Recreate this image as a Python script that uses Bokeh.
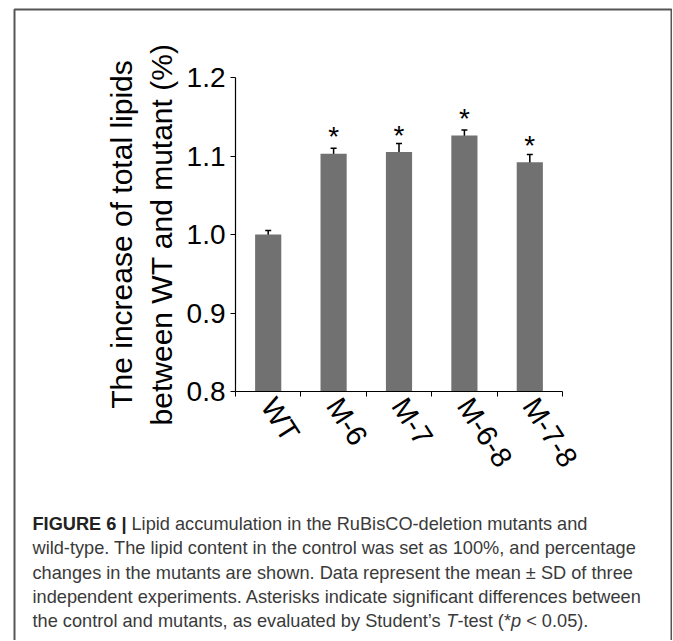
import numpy as np
from bokeh.plotting import figure
from bokeh.models import (ColumnDataSource, Range1d, FixedTicker, Whisker, TeeHead,
                          Label, PolyAnnotation, PrintfTickFormatter)
from bokeh.core.properties import value
from bokeh.embed import file_html
from bokeh.resources import INLINE

# ---- data ----
categories = ["WT", "M-6", "M-7", "M-6-8", "M-7-8"]
means = [1.000, 1.103, 1.105, 1.126, 1.092]
sds = [0.005, 0.007, 0.011, 0.007, 0.010]
stars = ["", "*", "*", "*", "*"]
y_ticks = [0.8, 0.9, 1.0, 1.1, 1.2]
y_label = "The increase of total lipids\nbetween WT and mutant (%)"

caption_bold = "FIGURE 6 |"
caption_first = "Lipid accumulation in the RuBisCO-deletion mutants and"
caption_lines = [
    "wild-type. The lipid content in the control was set as 100%, and percentage",
    "changes in the mutants are shown. Data represent the mean \u00b1 SD of three",
    "independent experiments. Asterisks indicate significant differences between",
]
caption_last = ["the control and mutants, as evaluated by Student\u2019s", "T",
                "-test (*", "p", "< 0.05)."]

# ---- layout (pixels) ----
W, H = 672, 640
FL, FR, FT, FB = 235, 562, 77, 391        # plot area inside the canvas
n = len(categories)
y0, y1 = y_ticks[0], y_ticks[-1]
xpp = n / (FR - FL)
ypp = (y1 - y0) / (FB - FT)

x_pos = np.arange(n)
m = np.array(means)
s = np.array(sds)
src = ColumnDataSource(dict(x=x_pos, cat=categories, mean=m,
                            lower=m - s, upper=m + s, star=stars))

FONT = "Liberation Sans"

p = figure(width=W, height=H, output_backend="svg", toolbar_location=None,
           x_range=Range1d(-0.5 - FL * xpp, -0.5 + (W - FL) * xpp),
           y_range=Range1d(y0 - (H - FB) * ypp, y1 + FT * ypp),
           min_border=0, min_border_left=0, min_border_right=0,
           min_border_top=0, min_border_bottom=0)
p.outline_line_color = None
p.grid.visible = False
p.background_fill_color = "white"
p.border_fill_color = "white"

p.vbar(x="x", top="mean", bottom=y0, width=0.4, source=src,
       fill_color="#717171", line_color=None)

p.add_layout(Whisker(source=src, base="x", upper="upper", lower="lower",
                     line_color="black", line_width=1.5,
                     upper_head=TeeHead(size=6, line_width=1.5, line_color="black"),
                     lower_head=TeeHead(size=6, line_width=1.5, line_color="black")))

p.text(x="x", y="mean", text="star", source=src, text_font=value(FONT),
       text_font_size="28px", text_align="center", text_baseline="alphabetic",
       y_offset=-17, text_color="black")

# x axis: labels at category centres, tick marks at boundaries
xa = p.xaxis[0]
xa.fixed_location = y0
xa.bounds = (-0.5, n - 0.5)
xa.ticker = FixedTicker(ticks=list(x_pos), minor_ticks=list(np.arange(n + 1) - 0.5))
xa.major_label_overrides = {int(i): c for i, c in zip(x_pos, categories)}
xa.major_tick_out = 0
xa.major_tick_in = 0
xa.minor_tick_out = 5
xa.minor_tick_in = 0
xa.minor_tick_line_color = "black"
xa.major_label_orientation = -1.0
xa.major_label_standoff = 4

ya = p.yaxis[0]
ya.fixed_location = -0.5
ya.bounds = (y0, y1)
ya.ticker = FixedTicker(ticks=y_ticks, minor_ticks=[])
ya.formatter = PrintfTickFormatter(format="%.1f")
ya.major_tick_out = 5
ya.major_tick_in = 0
ya.major_label_standoff = 5
ya.axis_label = y_label
ya.axis_label_text_font = FONT
ya.axis_label_text_font_size = "30px"
ya.axis_label_text_font_style = "normal"
ya.axis_label_text_color = "black"
ya.axis_label_standoff = 6

for ax in (xa, ya):
    ax.axis_line_color = "black"
    ax.axis_line_width = 1.2
    ax.major_tick_line_color = "black"
    ax.major_label_text_font = FONT
    ax.major_label_text_color = "black"
xa.major_label_text_font_size = "29px"
ya.major_label_text_font_size = "28px"

# ---- caption (screen units: from canvas left / bottom) ----
FS = 18.2
SP = 0.278  # width of a space, em
CAP = dict(x_units="screen", y_units="screen", text_font=FONT,
           text_font_size=f"{FS}px", text_color="#3a3a3a", text_baseline="alphabetic")
cx = 32
base = [H - 523, H - 547.5, H - 572, H - 596, H - 620]
p.add_layout(Label(x=cx, y=base[0], text=caption_bold, text_font_style="bold",
                   **{**CAP, "text_color": "#222222"}))
p.add_layout(Label(x=131, y=base[0], text=caption_first, **CAP))
for k, line in enumerate(caption_lines):
    p.add_layout(Label(x=cx, y=base[k + 1], text=line, **CAP))
# last line with italic T and p (Arial-metric advance widths in em)
adv = [22.735, 0.611, 2.945, 0.556 + SP]
xs = [cx]
for a in adv:
    xs.append(xs[-1] + a * FS)
styles = ["normal", "italic", "normal", "italic", "normal"]
for seg, xx, st in zip(caption_last, xs, styles):
    p.add_layout(Label(x=xx, y=base[4], text=seg, text_font_style=st, **CAP))

# ---- panel border (open at the bottom of the page) ----
p.add_layout(PolyAnnotation(xs=[14, 671, 671, 14], ys=[H - 9, H - 9, -10, -10],
                            xs_units="screen", ys_units="screen",
                            fill_alpha=0, line_alpha=1.0,
                            line_color="#555555", line_width=2))

open("out.html", "w").write(file_html(p, INLINE))
